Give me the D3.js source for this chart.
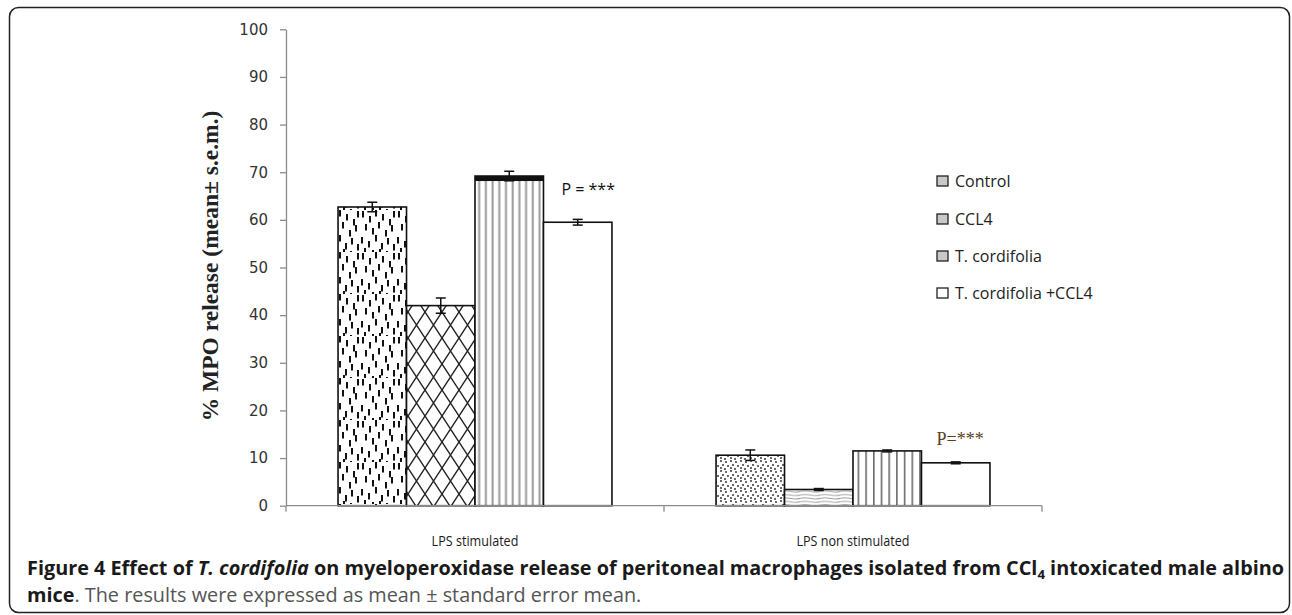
<!DOCTYPE html>
<html lang="en">
<head>
<meta charset="utf-8">
<title>Figure 4 - MPO release</title>
<script src="https://d3js.org/d3.v7.min.js"></script>
<style type="text/css">
	body { margin: 0; background: #fff; }
	text { font-family: "Open Sans", sans-serif; }
</style>
</head>
<body>
<script type="text/javascript">

	//Categories and series
	var categories = ["LPS stimulated", "LPS non stimulated"];
	var seriesNames = ["Control", "CCL4", "T. cordifolia", "T. cordifolia +CCL4"];

	//Mean % MPO release, one value per category
	var controlMean = [62.7, 10.6];
	var ccl4Mean = [42.0, 3.4];
	var cordifoliaMean = [69.2, 11.5];
	var comboMean = [59.5, 9.0];

	//Standard error of the mean
	var controlSem = [1.0, 1.1];
	var ccl4Sem = [1.6, 0.2];
	var cordifoliaSem = [1.0, 0.2];
	var comboSem = [0.6, 0.2];

	//Y axis ticks
	var yTicks = [0, 10, 20, 30, 40, 50, 60, 70, 80, 90, 100];

	//Significance notes, placed above the last bar of each group
	var pLabels = ["P = ***", "P=***"];
	var pLabelAt = [65.2, 12.8];

	var means = [controlMean, ccl4Mean, cordifoliaMean, comboMean];
	var sems = [controlSem, ccl4Sem, cordifoliaSem, comboSem];

	var w = 1292;
	var h = 615;

	var svg = d3.select("body")
				.append("svg")
				.attr("width", w)
				.attr("height", h);

	//Fill patterns (every bar has its own texture in the original)
	var defs = svg.append("defs");

	function pattern(id, pw, ph) {
		var p = defs.append("pattern")
			.attr("id", id)
			.attr("patternUnits", "userSpaceOnUse")
			.attr("width", pw)
			.attr("height", ph);
		p.append("rect").attr("width", pw).attr("height", ph).attr("fill", "#fff");
		return p;
	}

	//scattered vertical dashes
	var dash = pattern("dash", 36, 42);
	var dashSpots = [[2,1],[9,6],[15,0],[22,4],[29,9],[33,1],[5,14],[12,18],[18,12],[25,20],[31,15],
		[1,27],[8,31],[15,25],[21,33],[27,28],[33,34],[4,38],[12,40],[19,39],[26,41]];
	dashSpots.forEach(function(s) {
		dash.append("rect").attr("x", s[0]).attr("y", s[1]).attr("width", 2).attr("height", 6.5).attr("fill", "#111");
	});

	//stipple
	var stip = pattern("stipple", 10, 10);
	[[1,1],[6,2],[3,5],[8,6],[1,8],[5,9]].forEach(function(s) {
		stip.append("circle").attr("cx", s[0]).attr("cy", s[1]).attr("r", 0.9).attr("fill", "#222");
	});

	//diamond cross hatch
	var hatch = pattern("hatch", 17, 26);
	hatch.append("path").attr("d", "M0,0L17,26M17,0L0,26")
		.attr("stroke", "#222").attr("stroke-width", 1.4).attr("fill", "none");

	//vertical grey lines
	var vline = pattern("vline", 6.7, 10);
	vline.append("rect").attr("x", 2.5).attr("width", 2).attr("height", 10).attr("fill", "#9a9a9a");

	//vertical lines, wider spacing
	var vline2 = pattern("vline2", 7.7, 10);
	vline2.append("rect").attr("x", 3).attr("width", 1.4).attr("height", 10).attr("fill", "#555");

	//horizontal waves
	var wave = pattern("wave", 20, 3.4);
	wave.append("path").attr("d", "M0,2 Q5,1 10,2 T20,2")
		.attr("stroke", "#999").attr("stroke-width", 0.9).attr("fill", "none");

	var fills = [
		["url(#dash)", "url(#hatch)", "url(#vline)", "#fff"],
		["url(#stipple)", "url(#wave)", "url(#vline2)", "#fff"]
	];

	//Scales
	var yScale = d3.scaleLinear()
		.domain([0, 100])
		.range([505.7, 29.3]);

	var xScale = d3.scaleBand()
		.domain(categories)
		.range([286, 1042])
		.padding(0);

	var xSub = d3.scaleBand()
		.domain(seriesNames)
		.range([0, xScale.bandwidth()])
		.paddingInner(0)
		.paddingOuter(0.76);

	//Y axis
	var yAxis = d3.axisLeft(yScale)
		.tickValues(yTicks)
		.tickSize(6)
		.tickSizeOuter(0)
		.tickPadding(12);

	var gy = svg.append("g")
		.attr("transform", "translate(286,0)")
		.call(yAxis);
	gy.select(".domain").attr("stroke", "#8c8c8c").attr("stroke-width", 1.3);
	gy.selectAll(".tick line").attr("stroke", "#8c8c8c").attr("stroke-width", 1.3);
	gy.selectAll(".tick text")
		.style("font-family", "'DejaVu Sans', sans-serif")
		.style("font-size", "15px")
		.attr("fill", "#333");

	//Bars
	var rows = [];
	categories.forEach(function(c, ci) {
		seriesNames.forEach(function(s, si) {
			rows.push({ cat: c, ci: ci, series: s, si: si, v: means[si][ci], e: sems[si][ci] });
		});
	});

	var bars = svg.append("g");
	bars.selectAll("rect")
		.data(rows)
		.enter()
		.append("rect")
		.attr("x", function(d) { return xScale(d.cat) + xSub(d.series); })
		.attr("y", function(d) { return yScale(d.v); })
		.attr("width", xSub.bandwidth())
		.attr("height", function(d) { return yScale(0) - yScale(d.v); })
		.attr("fill", function(d) { return fills[d.ci][d.si]; })
		.attr("stroke", "#111")
		.attr("stroke-width", 1.6);

	//heavy black top on the T. cordifolia bar of the first group
	var heavy = rows.filter(function(d) { return d.ci === 0 && d.si === 2; });
	bars.selectAll(".heavy")
		.data(heavy)
		.enter()
		.append("rect")
		.attr("class", "heavy")
		.attr("x", function(d) { return xScale(d.cat) + xSub(d.series); })
		.attr("y", function(d) { return yScale(d.v); })
		.attr("width", xSub.bandwidth())
		.attr("height", 5)
		.attr("fill", "#111");

	//Error bars
	var err = svg.append("g").attr("stroke", "#111").attr("stroke-width", 1.5);
	rows.forEach(function(d) {
		var cx = xScale(d.cat) + xSub(d.series) + xSub.bandwidth() / 2;
		var y1 = yScale(d.v + d.e), y2 = yScale(d.v - d.e);
		err.append("line").attr("x1", cx).attr("x2", cx).attr("y1", y1).attr("y2", y2);
		err.append("line").attr("x1", cx - 5).attr("x2", cx + 5).attr("y1", y1).attr("y2", y1);
		err.append("line").attr("x1", cx - 5).attr("x2", cx + 5).attr("y1", y2).attr("y2", y2);
	});

	//X axis
	var gx = svg.append("g");
	gx.append("line")
		.attr("x1", xScale.range()[0]).attr("x2", xScale.range()[1])
		.attr("y1", yScale(0)).attr("y2", yScale(0))
		.attr("stroke", "#8c8c8c").attr("stroke-width", 1.3);
	var edges = [xScale.range()[0]].concat(categories.map(function(c) { return xScale(c) + xScale.bandwidth(); }));
	gx.selectAll(".edge")
		.data(edges)
		.enter()
		.append("line")
		.attr("x1", function(d) { return d; }).attr("x2", function(d) { return d; })
		.attr("y1", yScale(0)).attr("y2", yScale(0) + 6)
		.attr("stroke", "#8c8c8c").attr("stroke-width", 1.3);
	gx.selectAll(".cat")
		.data(categories)
		.enter()
		.append("text")
		.attr("x", function(d) { return xScale(d) + xScale.bandwidth() / 2; })
		.attr("y", 546)
		.attr("text-anchor", "middle")
		.style("font-size", "15px")
		.attr("fill", "#1a1a1a")
		.attr("transform", function(d) {
			var cx = xScale(d) + xScale.bandwidth() / 2;
			return "translate(" + cx + ",0) scale(0.84,1) translate(" + (-cx) + ",0)";
		})
		.text(function(d) { return d; });

	//Y axis title
	svg.append("text")
		.attr("transform", "translate(218,266) rotate(-90)")
		.attr("text-anchor", "middle")
		.style("font-family", "'Liberation Serif', serif")
		.style("font-weight", "bold")
		.style("font-size", "23.5px")
		.attr("fill", "#222")
		.text("% MPO release (mean\u00b1 s.e.m.)");

	//P value notes
	svg.append("text")
		.attr("x", xScale(categories[0]) + xSub(seriesNames[3]) + 18)
		.attr("y", yScale(pLabelAt[0]))
		.style("font-size", "16px")
		.attr("fill", "#111")
		.text(pLabels[0]);
	svg.append("text")
		.attr("x", xScale(categories[1]) + xSub(seriesNames[3]) + 15)
		.attr("y", yScale(pLabelAt[1]))
		.style("font-family", "'Liberation Serif', serif")
		.style("font-size", "18px")
		.attr("fill", "#5a4020")
		.text(pLabels[1]);

	//Legend
	var legend = svg.append("g").attr("transform", "translate(937,0)");
	var legY = [181, 219, 256, 293];
	var legFill = ["#c8c8c8", "#c8c8c8", "#c8c8c8", "#fff"];
	seriesNames.forEach(function(s, i) {
		legend.append("rect")
			.attr("x", 0).attr("y", legY[i] - 5)
			.attr("width", 11).attr("height", 10)
			.attr("fill", legFill[i])
			.attr("stroke", "#222").attr("stroke-width", 1.3);
		legend.append("text")
			.attr("x", 18).attr("y", legY[i] + 6)
			.style("font-size", "16px")
			.attr("fill", "#222")
			.text(s);
	});

	//Frame
	svg.append("rect")
		.attr("x", 9.5).attr("y", 7.5)
		.attr("width", 1280).attr("height", 605)
		.attr("rx", 9).attr("ry", 9)
		.attr("fill", "none")
		.attr("stroke", "#222")
		.attr("stroke-width", 1.5);

	//Caption
	var cap1 = svg.append("g");
	var t1 = cap1.append("text")
		.attr("x", 0).attr("y", 0)
		.style("font-size", "19.5px")
		.style("font-weight", "bold")
		.attr("fill", "#1a1a1a");
	t1.append("tspan").text("Figure 4 Effect of ");
	t1.append("tspan").style("font-style", "italic").text("T. cordifolia");
	t1.append("tspan").text(" on myeloperoxidase release of peritoneal macrophages isolated from CCl");
	t1.append("tspan").style("font-size", "13px").attr("dy", 4).text("4");
	t1.append("tspan").attr("dy", -4).text(" intoxicated male albino");

	var sx = 1258 / t1.node().getComputedTextLength();
	cap1.attr("transform", "translate(27,575) scale(" + sx + ",1)");

	var cap2 = svg.append("g").attr("transform", "translate(27,602) scale(" + sx + ",1)");
	var t2 = cap2.append("text")
		.attr("x", 0).attr("y", 0)
		.style("font-size", "19.5px")
		.attr("fill", "#555");
	t2.append("tspan").style("font-weight", "bold").attr("fill", "#1a1a1a").text("mice");
	t2.append("tspan").text(". The results were expressed as mean \u00b1 standard error mean.");

</script>
</body>
</html>
